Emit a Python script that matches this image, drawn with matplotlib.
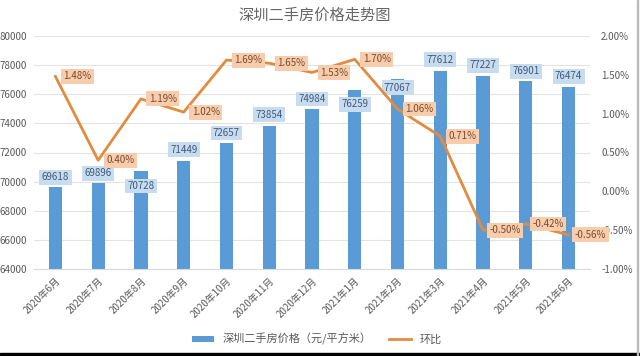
import matplotlib
matplotlib.use("Agg")
import matplotlib.pyplot as plt
from matplotlib.lines import Line2D
from matplotlib.patches import Patch

plt.rcParams['font.family'] = ['Noto Sans CJK SC', 'DejaVu Sans']

months = ["2020年6月", "2020年7月", "2020年8月", "2020年9月", "2020年10月", "2020年11月",
          "2020年12月", "2021年1月", "2021年2月", "2021年3月", "2021年4月", "2021年5月", "2021年6月"]
prices = [69618, 69896, 70728, 71449, 72657, 73854, 74984, 76259, 77067, 77612, 77227, 76901, 76474]
mom_pct = [1.48, 0.40, 1.19, 1.02, 1.69, 1.65, 1.53, 1.70, 1.06, 0.71, -0.50, -0.42, -0.56]
left_ticks = [64000, 66000, 68000, 70000, 72000, 74000, 76000, 78000, 80000]
right_ticks = [-1.0, -0.5, 0.0, 0.5, 1.0, 1.5, 2.0]

# label vertical offsets in pixels (label placement only)
bar_label_dy = [10, 10, -15, 11, 10, 11, 10, -14, -9, 11, 11, 10, 11]

BAR = '#5B9BD5'
LINE = '#E38B3F'
TXT = '#595959'

fig = plt.figure(figsize=(6.4, 3.56), dpi=100)
fig.patch.set_facecolor('white')
W, H = 640, 356
ax = fig.add_axes([34 / W, (H - 269) / H, (590 - 34) / W, (269 - 36) / H])
ax2 = ax.twinx()

x = list(range(len(months)))
ax.bar(x, prices, width=0.31, color=BAR, zorder=2)
ax.set_ylim(64000, 80000)
ax.set_xlim(-0.5, len(months) - 0.5)
ax.set_yticks(left_ticks)
ax.set_yticklabels([str(v) for v in left_ticks], fontsize=7, color=TXT)
ax.yaxis.grid(True, color='#e3e3e3', linewidth=0.8, zorder=0)
ax.set_axisbelow(True)
ax.set_xticks(x)
ax.set_xticklabels(months, rotation=45, ha='right', rotation_mode='anchor', fontsize=7, color=TXT)
ax.tick_params(axis='y', length=0, pad=5)
ax.tick_params(axis='x', length=0, pad=5)
for s in ['top', 'left', 'right']:
    ax.spines[s].set_visible(False)
ax.spines['bottom'].set_color('#d9d9d9')

ax2.plot(x, mom_pct, color=LINE, linewidth=2.0, zorder=3)
ax2.set_ylim(-1.0, 2.0)
ax2.set_yticks(right_ticks)
ax2.set_yticklabels([f"{v:.2f}%" for v in right_ticks], fontsize=7, color=TXT)
ax2.tick_params(axis='y', length=0, pad=8)
for s in ['top', 'left', 'right', 'bottom']:
    ax2.spines[s].set_visible(False)

for xi, v, dy in zip(x, prices, bar_label_dy):
    ax.annotate(str(v), xy=(xi, v), xytext=(0, dy), textcoords='offset pixels',
                ha='center', va='center', fontsize=7, color='#3F5A7A', zorder=5,
                bbox=dict(boxstyle='square,pad=0.25', fc='#C8DCF0', ec='none'))

for xi, p in zip(x, mom_pct):
    ax2.annotate(f"{p:.2f}%", xy=(xi, p), xytext=(22, 0), textcoords='offset pixels',
                 ha='center', va='center', fontsize=7, color='#7A4A2A', zorder=6,
                 bbox=dict(boxstyle='square,pad=0.25', fc='#F7CDAE', ec='none'))

fig.text(315 / W, 1 - 15 / H, "深圳二手房价格走势图", ha='center', va='center',
         fontsize=11, color='#666666')

handles = [Patch(facecolor=BAR, edgecolor='none'), Line2D([0], [0], color=LINE, linewidth=2.0)]
fig.legend(handles, ["深圳二手房价格（元/平方米）", "环比"], loc='center',
           bbox_to_anchor=(317 / W, 1 - 339 / H), ncol=2, frameon=False, fontsize=8,
           labelcolor=TXT, handlelength=2.0, handleheight=0.5, columnspacing=1.5)

# screenshot edges: black bottom strip and thin right border
fig.add_artist(plt.Rectangle((0, 0), 1, 3 / H, transform=fig.transFigure, color='black'))
fig.add_artist(plt.Rectangle((637 / W, 0), 1 / W, 1, transform=fig.transFigure, color='#bbbbbb'))

fig.savefig("out.png", dpi=100)
